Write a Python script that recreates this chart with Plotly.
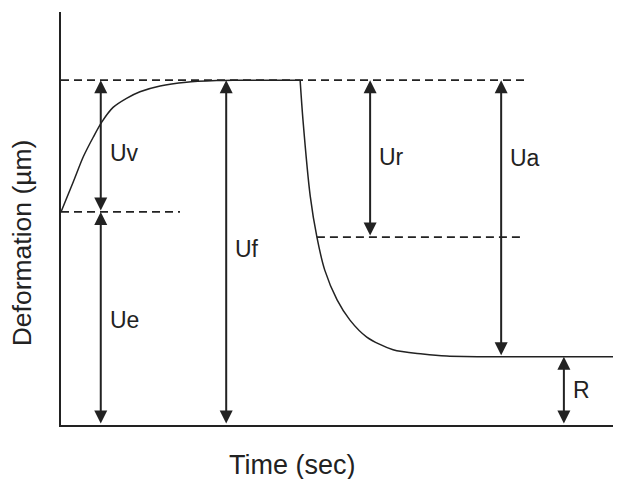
import plotly.graph_objects as go

# creep-recovery sketch, values (arbitrary units)
creep_t = [0.0, 0.22, 0.40, 0.58, 0.73, 0.93, 1.17, 1.41, 1.77, 2.24, 2.78, 3.07, 4.27]
creep_u = [5.16, 5.89, 6.50, 6.98, 7.34, 7.69, 7.91, 8.07, 8.21, 8.30, 8.34, 8.35, 8.35]
recov_t = [4.27, 4.32, 4.45, 4.57, 4.71, 4.93, 5.16, 5.46, 5.93, 6.46, 6.89, 7.84, 10.0]
recov_u = [8.35, 7.40, 5.55, 4.55, 3.75, 3.03, 2.54, 2.13, 1.82, 1.72, 1.67, 1.65, 1.65]

# reference levels (dashed lines): level, x start, x end
dash_lvl = [8.35, 5.16, 4.55]
dash_x0 = [0.0, 0.0, 4.57]
dash_x1 = [8.34, 2.125, 8.2]

# dimension arrows
names = ["Uv", "Ue", "Uf", "Ur", "Ua", "R"]
arrow_x = [0.71, 0.71, 2.95, 5.52, 7.86, 8.98]
arrow_lo = [5.16, 0.0, 0.0, 4.55, 1.65, 0.0]
arrow_hi = [8.35, 5.16, 8.35, 8.35, 8.35, 1.65]
label_y = [6.59, 2.54, 4.26, 6.49, 6.46, 0.85]

INK = "#222222"
FONT = "Arial, Liberation Sans, sans-serif"

fig = go.Figure()
fig.add_trace(go.Scatter(x=creep_t, y=creep_u, mode="lines", line=dict(color=INK, width=1.5, shape="spline", smoothing=0.8)))
fig.add_trace(go.Scatter(x=recov_t, y=recov_u, mode="lines", line=dict(color=INK, width=1.5, shape="spline", smoothing=0.8)))

for lvl, x0, x1 in zip(dash_lvl, dash_x0, dash_x1):
    fig.add_trace(go.Scatter(x=[x0, x1], y=[lvl, lvl], mode="lines",
                             line=dict(color=INK, width=1.6, dash="8px,5px")))

for nm, xa, lo, hi, ly in zip(names, arrow_x, arrow_lo, arrow_hi, label_y):
    fig.add_annotation(x=xa, y=hi, ax=xa, ay=lo, xref="x", yref="y", axref="x", ayref="y",
                       text="", showarrow=True, arrowside="end+start",
                       arrowhead=2, startarrowhead=2, arrowsize=1.3, startarrowsize=1.3,
                       arrowwidth=2, arrowcolor=INK)
    fig.add_annotation(x=xa, y=ly, xref="x", yref="y", text=nm, showarrow=False,
                       xanchor="left", yanchor="middle", xshift=7,
                       font=dict(size=23, color=INK, family=FONT))

# axis titles (placed off-centre like the sketch)
fig.add_annotation(x=0.414, y=0, xref="paper", yref="paper", xanchor="center", yanchor="middle",
                   yshift=-40, showarrow=False,
                   text="Time (sec)", font=dict(size=27, color=INK, family=FONT))
fig.add_annotation(x=0, y=0.44, xref="paper", yref="paper", xanchor="center", yanchor="middle",
                   xshift=-39, showarrow=False, textangle=-90,
                   text="Deformation (µm)", font=dict(size=26.5, color=INK, family=FONT))

fig.update_xaxes(range=[0, 10], showline=True, linewidth=2, linecolor=INK, showgrid=False,
                 zeroline=False, showticklabels=False, ticks="")
fig.update_yaxes(range=[0, 10], showline=True, linewidth=2, linecolor=INK, showgrid=False,
                 zeroline=False, showticklabels=False, ticks="")
fig.update_layout(width=621, height=479, showlegend=False,
                  paper_bgcolor="white", plot_bgcolor="white",
                  margin=dict(l=53, r=8, t=4, b=62))
fig.write_html("out.html")
